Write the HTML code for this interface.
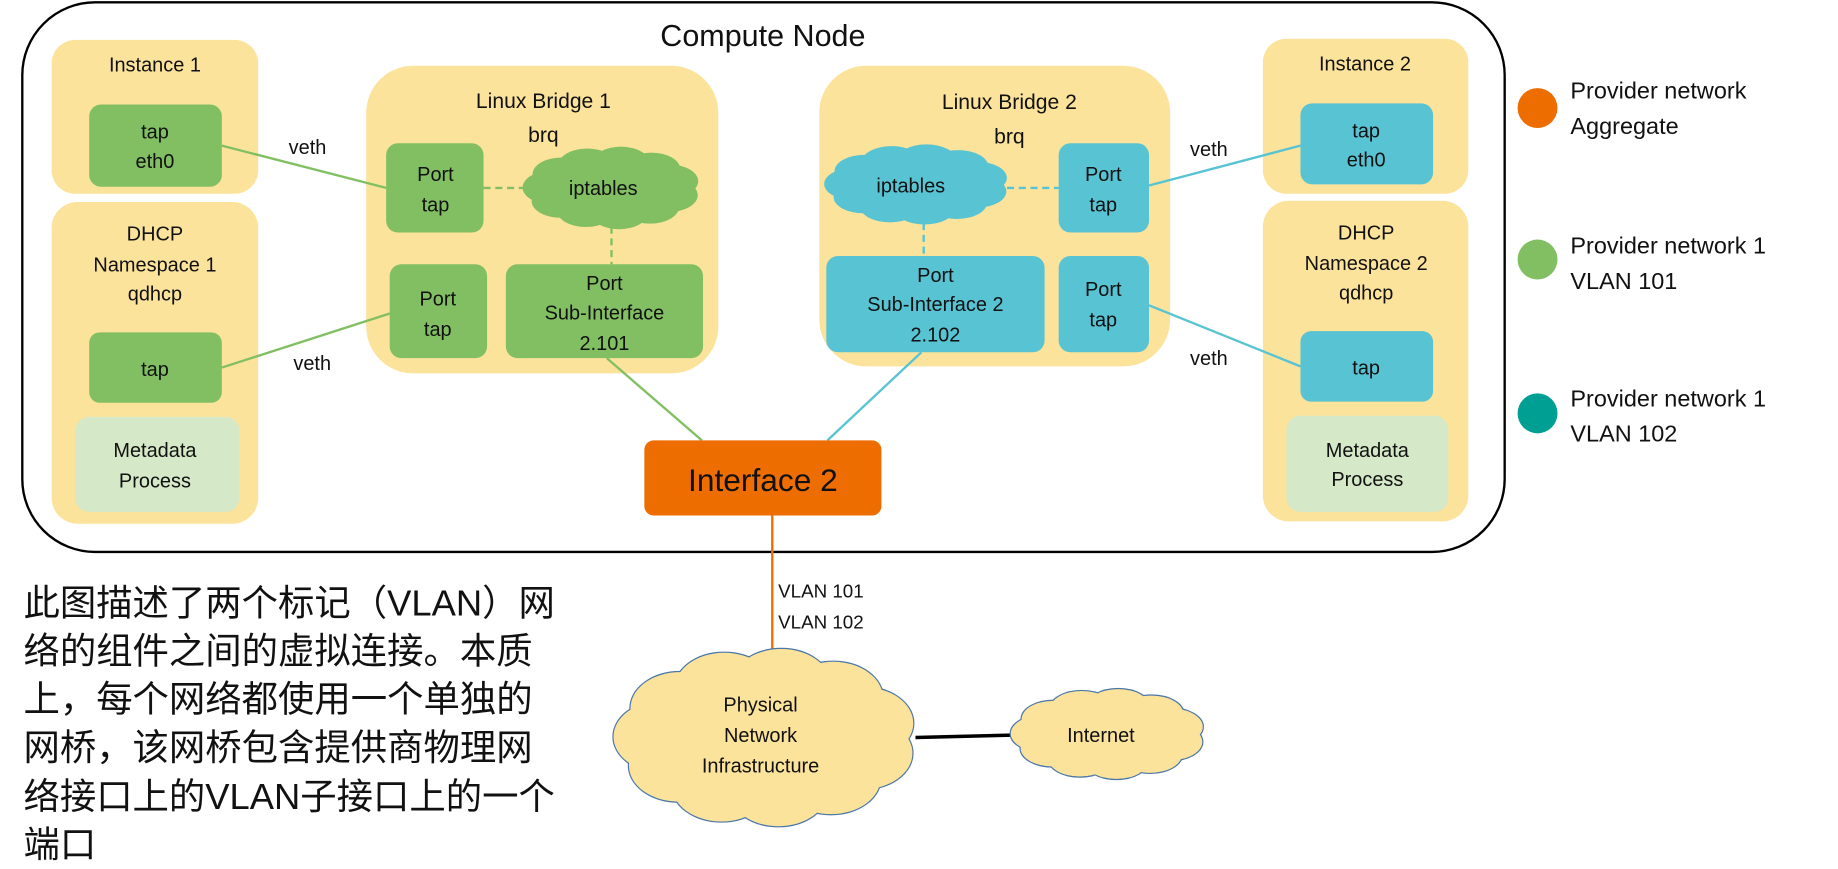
<!DOCTYPE html>
<html><head><meta charset="utf-8"><style>
html,body{margin:0;padding:0;background:#fff;}
svg{display:block}
text{font-family:"Liberation Sans","Noto Sans CJK SC",sans-serif;fill:#111;text-anchor:middle;}
</style></head><body>
<svg id="s" width="1838" height="869" viewBox="0 0 1566 740" preserveAspectRatio="none" xmlns="http://www.w3.org/2000/svg">
<rect x="19" y="2" width="1263" height="468" rx="62" fill="#fff" stroke="#000" stroke-width="2"/>
<text x="650" y="39" font-size="26">Compute Node</text>

<rect x="44" y="34" width="176" height="131" rx="20" fill="#fce39c"/>
<text x="132" y="61" font-size="17">Instance 1</text>
<rect x="76" y="89" width="113" height="70" rx="10" fill="#82bf62"/>
<text x="132" y="118" font-size="17">tap</text><text x="132" y="143" font-size="17">eth0</text>
<rect x="44" y="172" width="176" height="274" rx="22" fill="#fce39c"/>
<text x="132" y="205" font-size="17">DHCP</text><text x="132" y="231" font-size="17">Namespace 1</text><text x="132" y="256" font-size="17">qdhcp</text>
<rect x="76" y="283" width="113" height="60" rx="9" fill="#82bf62"/>
<text x="132" y="320" font-size="17">tap</text>
<rect x="64" y="355" width="140" height="81" rx="12" fill="#d5e8c8"/>
<text x="132" y="389" font-size="17">Metadata</text><text x="132" y="415" font-size="17">Process</text>

<rect x="312" y="56" width="300" height="262" rx="40" fill="#fce39c"/>
<text x="463" y="92" font-size="18">Linux Bridge 1</text><text x="463" y="121" font-size="18">brq</text>
<rect x="329" y="122" width="83" height="76" rx="10" fill="#82bf62"/>
<text x="371" y="154" font-size="17">Port</text><text x="371" y="180" font-size="17">tap</text>
<rect x="332" y="225" width="83" height="80" rx="10" fill="#82bf62"/>
<text x="373" y="260" font-size="17">Port</text><text x="373" y="286" font-size="17">tap</text>
<rect x="431" y="225" width="168" height="80" rx="10" fill="#82bf62"/>
<text x="515" y="247" font-size="17">Port</text><text x="515" y="272" font-size="17">Sub-Interface</text><text x="515" y="298" font-size="17">2.101</text>
<line x1="412" y1="160" x2="448" y2="160" stroke="#82bf62" stroke-width="2" stroke-dasharray="6,4"/>
<line x1="521" y1="193" x2="521" y2="225" stroke="#82bf62" stroke-width="2" stroke-dasharray="6,4"/>
<g id="c1"></g>
<text x="514" y="166" font-size="17">iptables</text>

<rect x="698" y="56" width="299" height="256" rx="40" fill="#fce39c"/>
<text x="860" y="93" font-size="18">Linux Bridge 2</text><text x="860" y="122" font-size="18">brq</text>
<rect x="902" y="122" width="77" height="76" rx="10" fill="#58c3d2"/>
<text x="940" y="154" font-size="17">Port</text><text x="940" y="180" font-size="17">tap</text>
<rect x="902" y="218" width="77" height="82" rx="10" fill="#58c3d2"/>
<text x="940" y="252" font-size="17">Port</text><text x="940" y="278" font-size="17">tap</text>
<rect x="704" y="218" width="186" height="82" rx="10" fill="#58c3d2"/>
<text x="797" y="240" font-size="17">Port</text><text x="797" y="265" font-size="17">Sub-Interface 2</text><text x="797" y="291" font-size="17">2.102</text>
<line x1="858" y1="160" x2="902" y2="160" stroke="#58c3d2" stroke-width="2" stroke-dasharray="6,4"/>
<line x1="787" y1="190" x2="787" y2="218" stroke="#58c3d2" stroke-width="2" stroke-dasharray="6,4"/>
<g id="c2"></g>
<text x="776" y="164" font-size="17">iptables</text>

<rect x="1076" y="33" width="175" height="132" rx="20" fill="#fce39c"/>
<text x="1163" y="60" font-size="17">Instance 2</text>
<rect x="1108" y="88" width="113" height="69" rx="10" fill="#58c3d2"/>
<text x="1164" y="117" font-size="17">tap</text><text x="1164" y="142" font-size="17">eth0</text>
<rect x="1076" y="171" width="175" height="273" rx="22" fill="#fce39c"/>
<text x="1164" y="204" font-size="17">DHCP</text><text x="1164" y="230" font-size="17">Namespace 2</text><text x="1164" y="255" font-size="17">qdhcp</text>
<rect x="1108" y="282" width="113" height="60" rx="9" fill="#58c3d2"/>
<text x="1164" y="319" font-size="17">tap</text>
<rect x="1096" y="354" width="138" height="82" rx="12" fill="#d5e8c8"/>
<text x="1165" y="389" font-size="17">Metadata</text><text x="1165" y="414" font-size="17">Process</text>

<g stroke-width="2" fill="none">
<line x1="189" y1="124" x2="329" y2="160" stroke="#82bf62"/>
<line x1="189" y1="313" x2="332" y2="267" stroke="#82bf62"/>
<line x1="517" y1="305" x2="598" y2="375" stroke="#82bf62"/>
<line x1="785" y1="300" x2="705" y2="375" stroke="#58c3d2"/>
<line x1="979" y1="158" x2="1108" y2="124" stroke="#58c3d2"/>
<line x1="979" y1="260" x2="1108" y2="312" stroke="#58c3d2"/>
<line x1="658" y1="439" x2="658" y2="595" stroke="#ed6d00"/>
<line x1="780" y1="628" x2="862" y2="626" stroke="#000" stroke-width="3"/>
</g>
<text x="262" y="131" font-size="17">veth</text>
<text x="266" y="315" font-size="17">veth</text>
<text x="1030" y="133" font-size="17">veth</text>
<text x="1030" y="311" font-size="17">veth</text>

<rect x="549" y="375" width="202" height="64" rx="8" fill="#ed6d00"/>
<text x="650" y="418" font-size="27">Interface 2</text>

<text x="663" y="509" font-size="16" style="text-anchor:start">VLAN 101</text>
<text x="663" y="535" font-size="16" style="text-anchor:start">VLAN 102</text>

<g id="c3"></g>
<text x="648" y="606" font-size="17">Physical</text><text x="648" y="632" font-size="17">Network</text><text x="648" y="658" font-size="17">Infrastructure</text>
<g id="c4"></g>
<text x="938" y="632" font-size="17">Internet</text>

<circle cx="1310" cy="92" r="17" fill="#ed6d00"/>
<circle cx="1310" cy="221" r="17" fill="#82bf62"/>
<circle cx="1310" cy="352" r="17" fill="#009f94"/>
<text x="1338" y="84" font-size="20" style="text-anchor:start">Provider network</text><text x="1338" y="114" font-size="20" style="text-anchor:start">Aggregate</text>
<text x="1338" y="216" font-size="20" style="text-anchor:start">Provider network 1</text><text x="1338" y="246" font-size="20" style="text-anchor:start">VLAN 101</text>
<text x="1338" y="346" font-size="20" style="text-anchor:start">Provider network 1</text><text x="1338" y="376" font-size="20" style="text-anchor:start">VLAN 102</text>

<g font-size="31">
<text x="20" y="524" style="text-anchor:start">此图描述了两个标记（VLAN）网</text>
<text x="20" y="565" style="text-anchor:start">络的组件之间的虚拟连接。本质</text>
<text x="20" y="606" style="text-anchor:start">上，每个网络都使用一个单独的</text>
<text x="20" y="647" style="text-anchor:start">网桥，该网桥包含提供商物理网</text>
<text x="20" y="689" style="text-anchor:start">络接口上的VLAN子接口上的一个</text>
<text x="20" y="730" style="text-anchor:start">端口</text>
</g>
</svg>
<script>
function cloud(id,cx,cy,w,h,fill,stroke){
  var g=document.getElementById(id),ns="http://www.w3.org/2000/svg",n=11,a=w/2,b=h/2,shapes=[];
  for(var i=0;i<n;i++){
    var t=i/n*2*Math.PI+0.3;
    shapes.push([cx+Math.cos(t)*a*0.68,cy+Math.sin(t)*b*0.62,a*0.33,b*0.42]);
  }
  shapes.push([cx,cy,a*0.7,b*0.65]);
  function add(st){
    shapes.forEach(function(s){
      var e=document.createElementNS(ns,"ellipse");
      e.setAttribute("cx",s[0]);e.setAttribute("cy",s[1]);e.setAttribute("rx",s[2]);e.setAttribute("ry",s[3]);
      e.setAttribute("fill",fill);
      if(st){e.setAttribute("stroke",stroke);e.setAttribute("stroke-width","2");}
      g.appendChild(e);
    });
  }
  if(stroke) add(true);
  add(false);
}
cloud("c1",521,160,150,68,"#82bf62",null);
cloud("c2",781,157,156,66,"#58c3d2",null);
cloud("c3",652,628,256,146,"#fce39c","#4a76a8");
cloud("c4",944,625,164,74,"#fce39c","#4a76a8");
</script>
</body></html>
